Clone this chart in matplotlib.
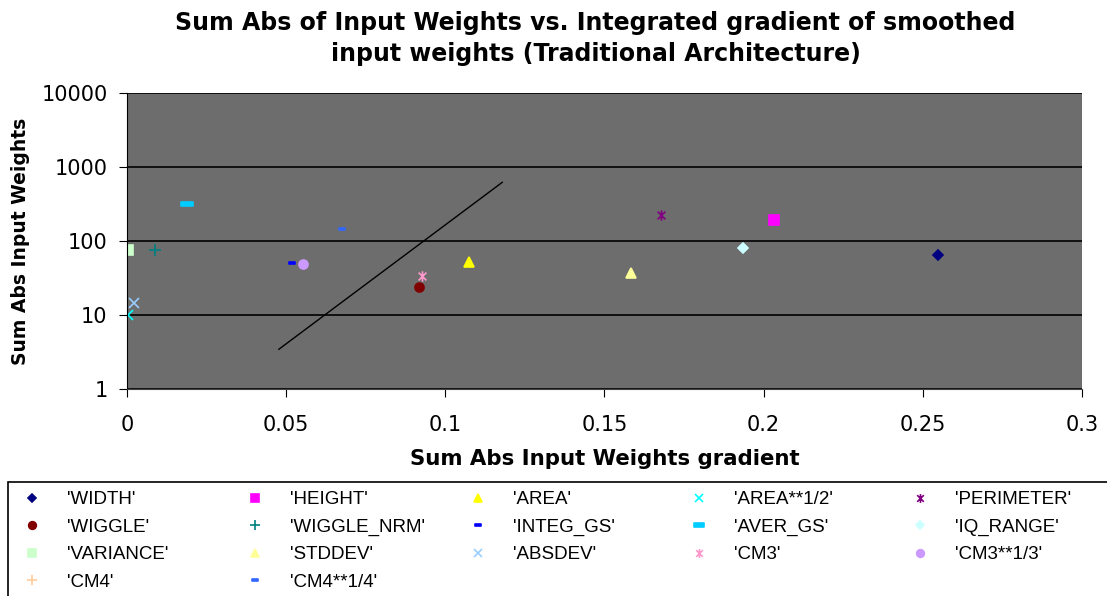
import matplotlib
matplotlib.use("Agg")
import matplotlib.pyplot as plt
from matplotlib.path import Path
from matplotlib.patches import Rectangle

plt.rcParams['font.family'] = ['DejaVu Sans']

# feature name, x = sum abs input weights gradient, y = sum abs input weights
names = ["'WIDTH'", "'HEIGHT'", "'AREA'", "'AREA**1/2'", "'PERIMETER'",
         "'WIGGLE'", "'WIGGLE_NRM'", "'INTEG_GS'", "'AVER_GS'", "'IQ_RANGE'",
         "'VARIANCE'", "'STDDEV'", "'ABSDEV'", "'CM3'", "'CM3**1/3'",
         "'CM4'", "'CM4**1/4'"]
grad_x = [0.2549, 0.2032, 0.1074, 0.0002, 0.1676,
          0.0916, 0.0089, 0.0519, 0.0187, 0.1935,
          0.0002, 0.1584, 0.0021, 0.0928, 0.0552,
          None, 0.0674]
weights_y = [64.7, 194, 52, 10, 224,
             23.7, 75.5, 51, 313, 81,
             75.5, 37.3, 14.7, 34, 48.9,
             None, 145]

# fitted trend line endpoints
trend_x = [0.0477, 0.1179]
trend_y = [3.44, 621]

star = Path([(0, -1), (0, 1), (-0.75, -0.75), (0.75, 0.75), (-0.75, 0.75), (0.75, -0.75)],
            [Path.MOVETO, Path.LINETO, Path.MOVETO, Path.LINETO, Path.MOVETO, Path.LINETO])
dash = Path([(-1, -0.35), (1, -0.35), (1, 0.35), (-1, 0.35), (-1, -0.35)],
            [Path.MOVETO, Path.LINETO, Path.LINETO, Path.LINETO, Path.CLOSEPOLY])

colors = ['#000080', '#FF00FF', '#FFFF00', '#00FFFF', '#800080',
          '#800000', '#008080', '#0000FF', '#00CCFF', '#CCFFFF',
          '#CCFFCC', '#FFFF99', '#99CCFF', '#FF99CC', '#CC99FF',
          '#FFCC99', '#3366FF']
markers = ['D', 's', '^', 'x', star,
           'o', '+', dash, dash, 'D',
           's', '^', 'x', star, 'o',
           '+', dash]
sizes = [5, 6.5, 7, 7, 7.5,
         6.5, 8, 5, 8, 5,
         6.5, 7, 7, 7.5, 6.5,
         8, 5]

fig = plt.figure(figsize=(11.07, 5.96), dpi=100)
ax = fig.add_axes([0.1147, 0.3473, 0.8627, 0.4967])
ax.set_facecolor('#6d6d6d')

handles = []
for i, name in enumerate(names):
    xs = [] if grad_x[i] is None else [grad_x[i]]
    ys = [] if weights_y[i] is None else [weights_y[i]]
    h, = ax.plot(xs, ys, linestyle='none', marker=markers[i], color=colors[i],
                 markersize=sizes[i], markeredgewidth=1.2, label=name)
    handles.append(h)

ax.plot(trend_x, trend_y, color='black', linewidth=1)

ax.set_yscale('log')
ax.set_ylim(1, 10000)
ax.set_xlim(0, 0.3)
ax.set_yticks([1, 10, 100, 1000, 10000])
ax.set_yticklabels(['1', '10', '100', '1000', '10000'])
ax.set_xticks([0, 0.05, 0.1, 0.15, 0.2, 0.25, 0.3])
ax.set_xticklabels(['0', '0.05', '0.1', '0.15', '0.2', '0.25', '0.3'])
ax.minorticks_off()
ax.yaxis.grid(True, color='black', linewidth=1.2)
ax.set_axisbelow(True)
ax.tick_params(labelsize=15, direction='out', length=6, color='black')
ax.tick_params(axis='y', pad=8)
ax.tick_params(axis='x', pad=12.5)
for s in ['top', 'right']:
    ax.spines[s].set_visible(False)
ax.spines['left'].set_color('black')
ax.spines['bottom'].set_color('#444444')

ax.set_xlabel('Sum Abs Input Weights gradient', fontsize=15.3, fontweight='bold', labelpad=10)
ax.set_ylabel('Sum Abs Input Weights', fontsize=13.5, fontweight='bold', labelpad=8)
fig.suptitle('Sum Abs of Input Weights vs. Integrated gradient of smoothed\ninput weights (Traditional Architecture)',
             fontsize=17, fontweight='bold', x=0.538, y=0.982, linespacing=1.4)

# legend box spanning the bottom of the figure
fig.add_artist(Rectangle((0.0072, -0.02), 1.0, 0.212, transform=fig.transFigure,
                         fill=False, edgecolor='black', linewidth=1.2))

# one legend per column so the columns sit at fixed positions, filled row by row
ncol = 5
col_px = [32, 255, 478, 699, 920]
for c in range(ncol):
    idx = list(range(c, len(names), ncol))
    fig.legend([handles[k] for k in idx], [names[k] for k in idx],
               loc='upper left', bbox_to_anchor=((col_px[c] - 9.4) / 1107, 0.176),
               frameon=False, handlelength=1.0, handletextpad=1.37,
               labelspacing=0.55, borderpad=0, borderaxespad=0, markerscale=0.85,
               prop={'family': 'Liberation Sans', 'size': 13.5})

fig.savefig('out.png', dpi=100)
